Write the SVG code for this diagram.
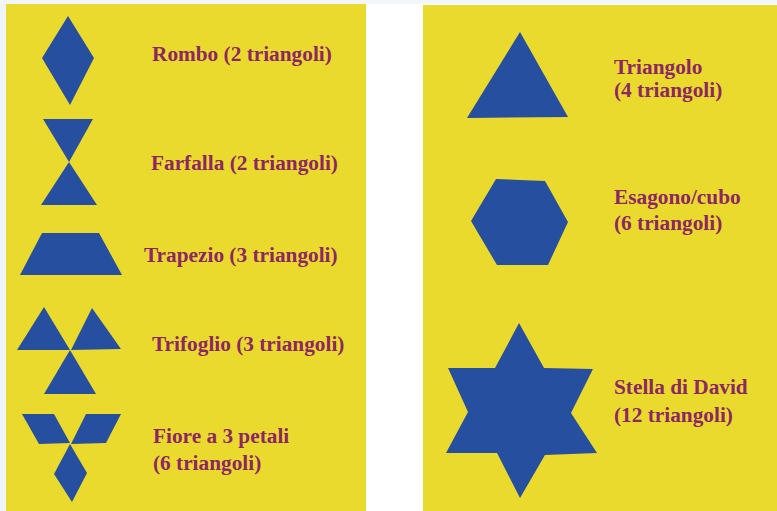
<svg xmlns="http://www.w3.org/2000/svg" width="777" height="511" viewBox="0 0 777 511">
<style>
.panel{fill:#ebda2e}
.shape{fill:#264f9f}
.lbl{font-family:"Liberation Serif","Times New Roman",serif;font-weight:bold;font-size:21.3px;fill:#8c2762}
</style>
<rect x="0" y="0" width="777" height="511" fill="#ffffff"/>
<rect x="0" y="0" width="6" height="511" fill="#eff4f9"/>
<rect x="0" y="0" width="777" height="4" fill="#f3f6f9"/>
<rect class="panel" x="6" y="4" width="360" height="507"/>
<rect class="panel" x="423" y="5" width="354" height="506"/>
<g id="rombo">
<polygon class="shape" points="68,16 94,58 70,105 42,58"/>
<text class="lbl" x="152" y="61">Rombo (2 triangoli)</text>
</g>
<g id="farfalla">
<polygon class="shape" points="43,119 93,119 69,162"/>
<polygon class="shape" points="69,162 97,205 41,205"/>
<text class="lbl" x="151" y="170">Farfalla (2 triangoli)</text>
</g>
<g id="trapezio">
<polygon class="shape" points="42,233 99,233 122,275 20,275"/>
<text class="lbl" x="144" y="262">Trapezio (3 triangoli)</text>
</g>
<g id="trifoglio">
<polygon class="shape" points="44,307 70,350 17,350"/>
<polygon class="shape" points="92,308 121,349 71,350"/>
<polygon class="shape" points="70,350 96,394 44,394"/>
<text class="lbl" x="152" y="351">Trifoglio (3 triangoli)</text>
</g>
<g id="fiore">
<polygon class="shape" points="22,414 54,414 70,443 39,444"/>
<polygon class="shape" points="86,414 121,414 106,443 71,444"/>
<polygon class="shape" points="70,444 87,473 72,502 54,474"/>
<text class="lbl" x="153" y="443">Fiore a 3 petali</text>
<text class="lbl" x="153" y="470">(6 triangoli)</text>
</g>
<g id="triangolo">
<polygon class="shape" points="520,32 568,117 467,118"/>
<text class="lbl" x="614" y="74">Triangolo</text>
<text class="lbl" x="614" y="97">(4 triangoli)</text>
</g>
<g id="esagono">
<polygon class="shape" points="496,179 545,181 568,222 548,265 497,265 471,221"/>
<text class="lbl" x="614" y="204">Esagono/cubo</text>
<text class="lbl" x="614" y="230">(6 triangoli)</text>
</g>
<g id="stella">
<polygon class="shape" points="519,323 544,368 593,369 571,413 597,453 545,455 520,498 497,453 446,453 468,412 448,368 495,368"/>
<text class="lbl" x="614" y="394">Stella di David</text>
<text class="lbl" x="614" y="422">(12 triangoli)</text>
</g>
</svg>
